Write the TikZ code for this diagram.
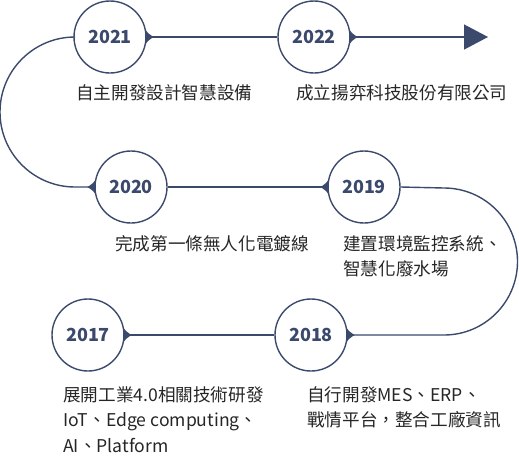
\documentclass[tikz,border=0pt]{standalone}
\usepackage{fontspec}
\setmainfont{Noto Sans CJK TC}
\usetikzlibrary{arrows.meta,calc}
\definecolor{navy}{HTML}{3B4A6C}
\definecolor{txt}{HTML}{262626}
\begin{document}
\begin{tikzpicture}[x=1pt,y=1pt,
  yearc/.style={circle,draw=navy,line width=1.4pt,fill=white,minimum size=72pt,inner sep=0pt,
    text=navy,font=\fontsize{18}{20}\selectfont\bfseries},
  link/.style={draw=navy,line width=1.4pt},
  desc/.style={anchor=base west,inner sep=0pt,align=left,text=txt,
    font=\fontsize{17.6}{25.5}\selectfont},
  tri/.style={fill=navy}]
\useasboundingbox (0,0) rectangle (519,-456);
\coordinate (rb) at (444,-335);
\coordinate (rt) at (444,-188);
\coordinate (lb) at (75,-187);
\coordinate (lt) at (75,-37);
\coordinate (tipend) at (488,-37);
\node[yearc] (c2017) at (88,-335) {2017};
\node[yearc] (c2018) at (311,-335) {2018};
\node[yearc] (c2019) at (364,-187) {2019};
\node[yearc] (c2020) at (131,-187) {2020};
\node[yearc] (c2021) at (110,-37) {2021};
\node[yearc] (c2022) at (314,-37) {2022};
\draw[link] (c2017.east) -- (c2018.west);
\draw[link] (c2018.east) -- (rb) arc[start angle=-90,end angle=90,radius=73.5] -- (c2019.east);
\draw[link] (c2019.west) -- (c2020.east);
\draw[link] (c2020.west) -- (lb) arc[start angle=270,end angle=90,radius=75] -- (c2021.west);
\draw[link] (c2021.east) -- (c2022.west);
\draw[link,-{Triangle[length=24pt,width=25pt]}] (c2022.east) -- (tipend);
\foreach \n in {c2017,c2018,c2021,c2022}{
  \fill[tri] ($(\n.east)+(-1.5,7.5)$) to[bend right=12] ($(\n.east)+(7,0)$) to[bend right=12] ($(\n.east)+(-1.5,-7.5)$) -- cycle;}
\foreach \n in {c2019,c2020}{
  \fill[tri] ($(\n.west)+(1.5,7.5)$) to[bend left=12] ($(\n.west)+(-7,0)$) to[bend left=12] ($(\n.west)+(1.5,-7.5)$) -- cycle;}
\node[desc] (d2021) at (76,-99) {自主開發設計智慧設備};
\node[desc] (d2022) at (296,-99) {成立揚弈科技股份有限公司};
\node[desc] (d2020) at (115,-250.5) {完成第一條無人化電鍍線};
\node[desc] (d2019) at (343,-275.5) {建置環境監控系統、\\智慧化廢水場};
\node[desc] (d2017) at (63,-452) {展開工業4.0相關技術研發\\IoT、Edge computing、\\AI、Platform};
\node[desc] (d2018) at (307,-426.5) {自行開發MES、ERP、\\戰情平台，整合工廠資訊};
\end{tikzpicture}
\end{document}
